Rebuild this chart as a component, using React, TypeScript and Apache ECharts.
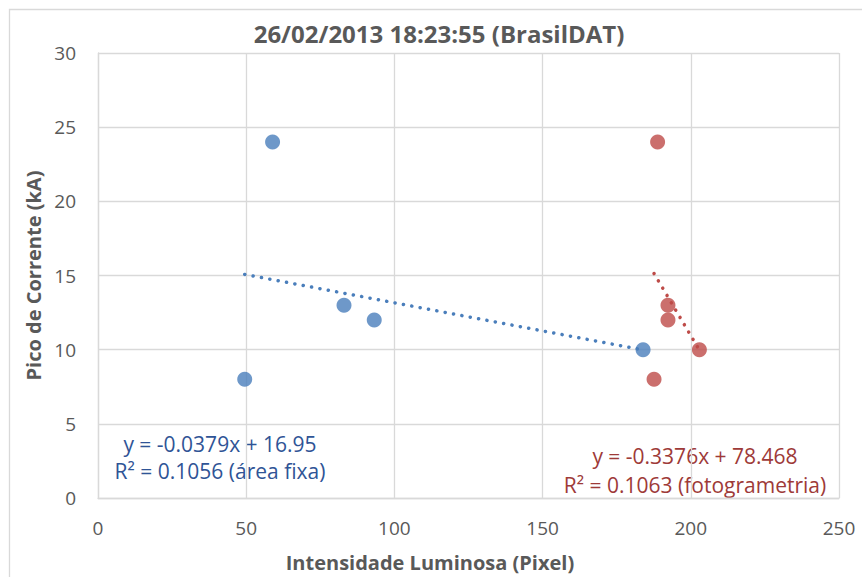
import React, { useEffect, useRef } from "react";
import * as echarts from "echarts";

const titleText = "26/02/2013 18:23:55 (BrasilDAT)";
const xAxisTitle = "Intensidade Luminosa (Pixel)";
const yAxisTitle = "Pico de Corrente (kA)";

const xTicks = [0, 50, 100, 150, 200, 250];
const yTicks = [0, 5, 10, 15, 20, 25, 30];

const blueX = [49.5, 58.9, 83.0, 93.2, 183.9];
const blueY = [8, 24, 13, 12, 10];
const redX = [187.6, 188.8, 192.3, 192.3, 202.9];
const redY = [8, 24, 13, 12, 10];

const blueSlope = -0.0379;
const blueIntercept = 16.95;
const redSlope = -0.3376;
const redIntercept = 78.468;

const blueEq = "y = -0.0379x + 16.95";
const blueR2 = "R² = 0.1056 (área fixa)";
const redEq = "y = -0.3376x + 78.468";
const redR2 = "R² = 0.1063 (fotogrametria)";

const BLUE = "#4A7EBB";
const RED = "#BE4B48";
const BLUE_TEXT = "#2F5496";
const RED_TEXT = "#9E3A38";
const GRID = "#D9D9D9";
const LABEL = "#595959";
const FONT = "'Open Sans', sans-serif";

function trend(xs: number[], slope: number, intercept: number) {
  const lo = Math.min(...xs);
  const hi = Math.max(...xs);
  return [
    [lo, slope * lo + intercept],
    [hi, slope * hi + intercept],
  ];
}

export default function App() {
  const ref = useRef<HTMLDivElement>(null);
  useEffect(() => {
    document.body.style.margin = "0";
    const chart = echarts.init(ref.current!, null, { renderer: "svg" });
    const dotted = { type: [0.1, 8.4] as any, cap: "round" as const, width: 3.5 };
    const eqStyle = (text: string, fill: string) => ({
      text,
      textAlign: "center",
      textVerticalAlign: "middle",
      fill,
      fontSize: 21,
      fontFamily: FONT,
    });
    chart.setOption({
      animation: false,
      backgroundColor: "#ffffff",
      grid: { left: 98, top: 53, right: 23, bottom: 78 },
      xAxis: {
        type: "value",
        min: xTicks[0],
        max: xTicks[xTicks.length - 1],
        interval: xTicks[1] - xTicks[0],
        axisLine: { show: true, lineStyle: { color: GRID, width: 1.3 } },
        axisTick: { show: false },
        splitLine: { show: true, lineStyle: { color: GRID, width: 1.3 } },
        axisLabel: { color: LABEL, fontSize: 19, fontFamily: FONT, margin: 20 },
        name: xAxisTitle,
        nameLocation: "middle",
        nameGap: 54,
        nameTextStyle: {
          color: LABEL,
          fontSize: 20,
          fontWeight: "bold",
          fontFamily: FONT,
          padding: [0, 77, 0, 0],
        },
      },
      yAxis: {
        type: "value",
        min: yTicks[0],
        max: yTicks[yTicks.length - 1],
        interval: yTicks[1] - yTicks[0],
        axisLine: { show: true, lineStyle: { color: GRID, width: 1.3 } },
        axisTick: { show: false },
        splitLine: { show: true, lineStyle: { color: GRID, width: 1.3 } },
        axisLabel: { color: LABEL, fontSize: 19, fontFamily: FONT, margin: 22 },
        name: yAxisTitle,
        nameLocation: "middle",
        nameRotate: 90,
        nameGap: 52,
        nameTextStyle: {
          color: LABEL,
          fontSize: 20,
          fontWeight: "bold",
          fontFamily: FONT,
        },
      },
      series: [
        {
          type: "scatter",
          data: blueX.map((x, i) => [x, blueY[i]]),
          symbolSize: 15,
          itemStyle: { color: BLUE },
          z: 2,
        },
        {
          type: "scatter",
          data: redX.map((x, i) => [x, redY[i]]),
          symbolSize: 15,
          itemStyle: { color: RED },
          z: 2,
        },
        {
          type: "line",
          data: trend(blueX, blueSlope, blueIntercept),
          symbol: "none",
          lineStyle: { ...dotted, color: BLUE },
          z: 3,
        },
        {
          type: "line",
          data: trend(redX, redSlope, redIntercept),
          symbol: "none",
          lineStyle: { ...dotted, color: RED },
          z: 3,
        },
      ],
      graphic: [
        {
          type: "rect",
          shape: { x: 9.5, y: 9.5, width: 900, height: 600 },
          style: { fill: "none", stroke: GRID, lineWidth: 1.3 },
          silent: true,
        },
        {
          type: "text",
          x: 439,
          y: 33,
          style: {
            text: titleText,
            textAlign: "center",
            textVerticalAlign: "middle",
            fill: LABEL,
            fontSize: 24,
            fontWeight: "bold",
            fontFamily: FONT,
          },
        },
        { type: "text", x: 220, y: 444, style: eqStyle(blueEq, BLUE_TEXT) },
        { type: "text", x: 220, y: 471, style: eqStyle(blueR2, BLUE_TEXT) },
        { type: "text", x: 695, y: 456, style: eqStyle(redEq, RED_TEXT) },
        { type: "text", x: 695, y: 485, style: eqStyle(redR2, RED_TEXT) },
      ],
    });
    return () => chart.dispose();
  }, []);
  return <div ref={ref} style={{ width: 862, height: 577 }} />;
}
